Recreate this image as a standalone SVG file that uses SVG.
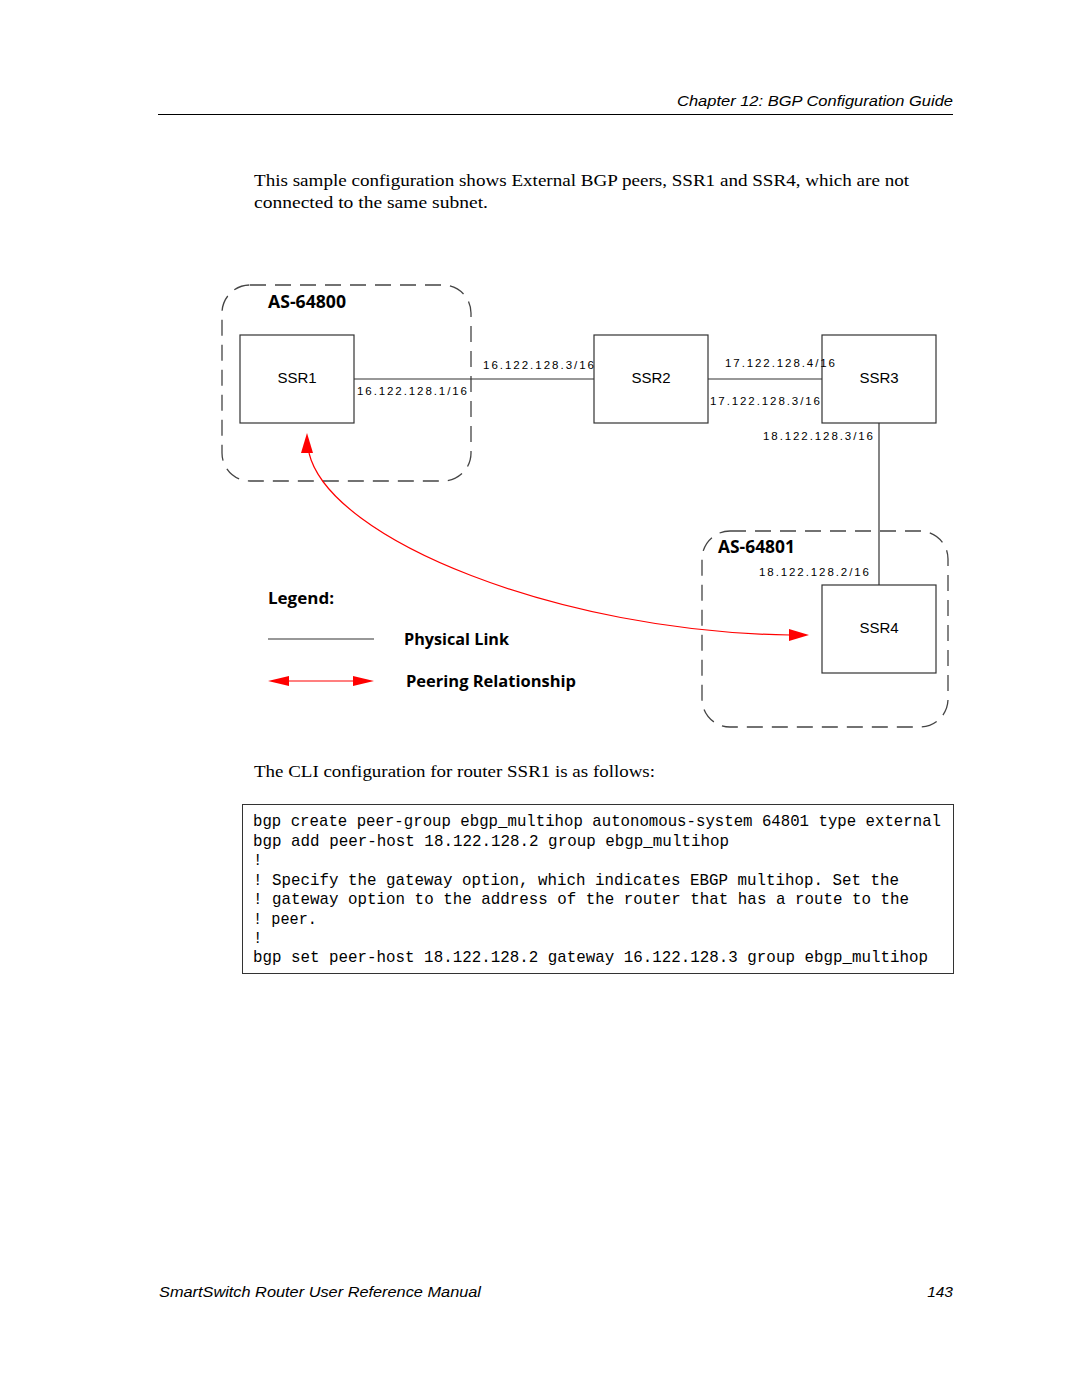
<svg xmlns="http://www.w3.org/2000/svg" width="1080" height="1397" viewBox="0 0 1080 1397">
<style>
.hdr{font-family:"Liberation Sans",Arial,sans-serif;font-style:italic;font-size:15.5px;fill:#000}
.body{font-family:"Liberation Serif","Times New Roman",serif;font-size:17.5px;fill:#000}
.as{font-family:"Open Sans","Liberation Sans",sans-serif;font-weight:bold;font-size:17px;fill:#000}
.lg{font-family:"Open Sans","Liberation Sans",sans-serif;font-weight:bold;font-size:16.6px;fill:#000}
.node{fill:#fff;stroke:#333;stroke-width:1.2}
.nlabel{font-family:"Liberation Sans",Arial,sans-serif;font-size:15px;fill:#000;text-anchor:middle}
.ip{font-family:"Liberation Sans",Arial,sans-serif;font-size:11.5px;fill:#000}
.link{stroke:#333;stroke-width:1.2;fill:none}
.dash{fill:none;stroke:#444;stroke-width:1.3;stroke-dasharray:16 9}
.peer{stroke:#f00;stroke-width:1.2;fill:none}
.code{font-family:"Liberation Mono","Courier New",monospace;font-size:15.7px;fill:#000}
</style>
<g id="header">
<text class="hdr" x="677" y="106" textLength="276" lengthAdjust="spacingAndGlyphs">Chapter 12: BGP Configuration Guide</text>
<line x1="158" y1="114.5" x2="953" y2="114.5" stroke="#000" stroke-width="1"/>
</g>
<g id="intro">
<text class="body" x="254" y="186" textLength="655" lengthAdjust="spacingAndGlyphs">This sample configuration shows External BGP peers, SSR1 and SSR4, which are not</text>
<text class="body" x="254" y="208" textLength="234" lengthAdjust="spacingAndGlyphs">connected to the same subnet.</text>
</g>
<g id="as-64800">
<rect class="dash" x="222" y="285" width="249" height="196" rx="28" ry="28"/>
<text class="as" x="268" y="308" textLength="78" lengthAdjust="spacingAndGlyphs">AS-64800</text>
</g>
<g id="as-64801">
<rect class="dash" x="702" y="531" width="246" height="196" rx="28" ry="28"/>
<text class="as" x="718" y="553" textLength="77" lengthAdjust="spacingAndGlyphs">AS-64801</text>
</g>
<g id="connectors">
<line class="link" x1="354" y1="379" x2="594" y2="379"/>
<line class="link" x1="708" y1="379" x2="822" y2="379"/>
<line class="link" x1="879" y1="423" x2="879" y2="585"/>
<path class="peer" d="M309,453 C330,540 560,632 790,635" />
<path d="M307,433 L313,453 L301,453 Z" fill="#f00"/>
<path d="M809,635 L789,629 L789,641 Z" fill="#f00"/>
</g>
<g id="ssr1">
<rect class="node" x="240" y="335" width="114" height="88"/>
<text class="nlabel" x="297" y="383">SSR1</text>
</g>
<g id="ssr2">
<rect class="node" x="594" y="335" width="114" height="88"/>
<text class="nlabel" x="651" y="383">SSR2</text>
</g>
<g id="ssr3">
<rect class="node" x="822" y="335" width="114" height="88" fill="none"/>
<text class="nlabel" x="879" y="383">SSR3</text>
</g>
<g id="ssr4">
<rect class="node" x="822" y="585" width="114" height="88"/>
<text class="nlabel" x="879" y="633">SSR4</text>
</g>
<g id="ip-labels">
<text class="ip" x="483" y="369" textLength="111" lengthAdjust="spacing">16.122.128.3/16</text>
<text class="ip" x="357" y="395" textLength="110" lengthAdjust="spacing">16.122.128.1/16</text>
<text class="ip" x="725" y="367" textLength="110" lengthAdjust="spacing">17.122.128.4/16</text>
<text class="ip" x="710" y="405" textLength="110" lengthAdjust="spacing">17.122.128.3/16</text>
<text class="ip" x="763" y="440" textLength="110" lengthAdjust="spacing">18.122.128.3/16</text>
<text class="ip" x="759" y="576" textLength="110" lengthAdjust="spacing">18.122.128.2/16</text>
</g>
<g id="legend">
<text class="lg" x="268" y="604" textLength="66" lengthAdjust="spacingAndGlyphs">Legend:</text>
<line x1="268" y1="639" x2="374" y2="639" stroke="#333" stroke-width="1.2"/>
<text class="lg" x="404" y="645" textLength="105" lengthAdjust="spacingAndGlyphs">Physical Link</text>
<line x1="288" y1="681" x2="354" y2="681" stroke="#f00" stroke-width="1.2"/>
<path d="M268,681 L289,676 L289,686 Z" fill="#f00"/>
<path d="M374,681 L353,676 L353,686 Z" fill="#f00"/>
<text class="lg" x="406" y="687" textLength="170" lengthAdjust="spacingAndGlyphs">Peering Relationship</text>
</g>
<g id="cli">
<text class="body" x="254" y="777" textLength="401" lengthAdjust="spacingAndGlyphs">The CLI configuration for router SSR1 is as follows:</text>
<rect x="242.5" y="804.5" width="711" height="169" fill="none" stroke="#333" stroke-width="1"/>
<text class="code" x="253" y="826" textLength="688" lengthAdjust="spacingAndGlyphs">bgp create peer-group ebgp_multihop autonomous-system 64801 type external</text>
<text class="code" x="253" y="845.5" textLength="476" lengthAdjust="spacingAndGlyphs">bgp add peer-host 18.122.128.2 group ebgp_multihop</text>
<text class="code" x="253" y="865">!</text>
<text class="code" x="253" y="884.5" textLength="646" lengthAdjust="spacingAndGlyphs">! Specify the gateway option, which indicates EBGP multihop. Set the</text>
<text class="code" x="253" y="904" textLength="656" lengthAdjust="spacingAndGlyphs">! gateway option to the address of the router that has a route to the</text>
<text class="code" x="253" y="923.5" textLength="64" lengthAdjust="spacingAndGlyphs">! peer.</text>
<text class="code" x="253" y="943">!</text>
<text class="code" x="253" y="962" textLength="675" lengthAdjust="spacingAndGlyphs">bgp set peer-host 18.122.128.2 gateway 16.122.128.3 group ebgp_multihop</text>
</g>
<g id="footer">
<text class="hdr" x="159" y="1297" textLength="322" lengthAdjust="spacingAndGlyphs">SmartSwitch Router User Reference Manual</text>
<text class="hdr" x="953" y="1297" text-anchor="end">143</text>
</g>
</svg>
